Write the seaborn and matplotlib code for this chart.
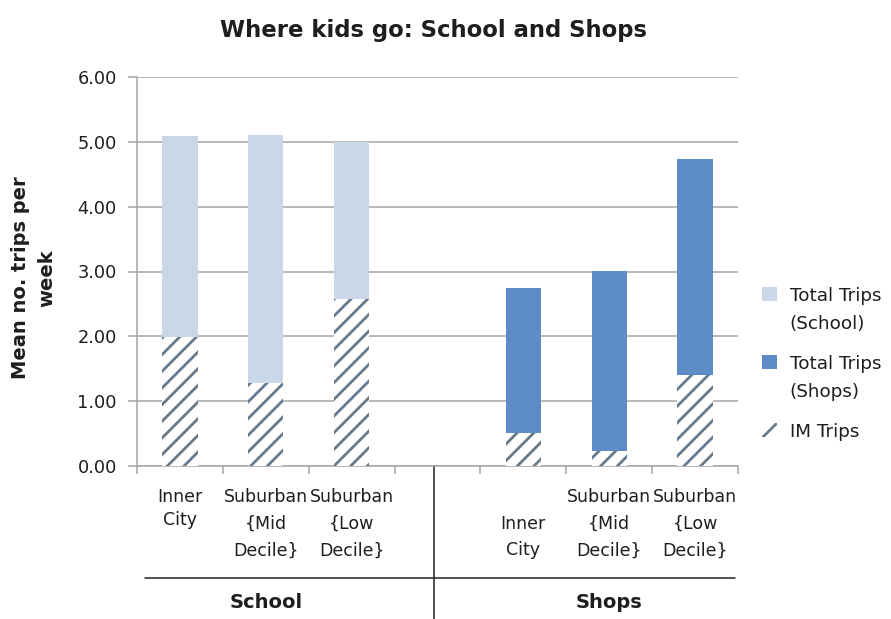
import matplotlib
matplotlib.use("Agg")
import matplotlib.pyplot as plt
import matplotlib.transforms as mtransforms
from matplotlib.patches import Patch
from matplotlib.lines import Line2D
import seaborn as sns
import pandas as pd

sns.set_theme(style="white")
plt.rcParams['font.family'] = ['DejaVu Sans']
plt.rcParams['hatch.linewidth'] = 2.0

# ---- data ----
groups = ["School", "School", "School", "Shops", "Shops", "Shops"]
areas = ["Inner City", "Suburban {Mid Decile}", "Suburban {Low Decile}",
         "Inner City", "Suburban {Mid Decile}", "Suburban {Low Decile}"]
total_trips = [5.09, 5.11, 5.00, 2.75, 3.01, 4.74]
im_trips = [1.99, 1.28, 2.58, 0.51, 0.23, 1.41]
slot_order = ["School|Inner City", "School|Suburban {Mid Decile}", "School|Suburban {Low Decile}",
              "gap",
              "Shops|Inner City", "Shops|Suburban {Mid Decile}", "Shops|Suburban {Low Decile}"]
yticks = [0, 1, 2, 3, 4, 5, 6]

df = pd.DataFrame({
    "group": groups,
    "area": areas,
    "slot": [g + "|" + a for g, a in zip(groups, areas)],
    "total": total_trips,
    "im": im_trips,
})

c_school = "#c9d7e8"
c_shops = "#5c8bc6"
c_hatch = "#687a89"
c_grid = "#a6a6a6"
c_text = "#1e1e1e"

fig = plt.figure(figsize=(8.91, 6.19), dpi=100)
ax = fig.add_axes([137/891, 1-466/619, (738-137)/891, (466-77)/619])

sns.barplot(data=df, x="slot", y="total", hue="group", order=slot_order,
            palette={"School": c_school, "Shops": c_shops}, dodge=False,
            width=0.41, linewidth=0, saturation=1, legend=False, ax=ax, zorder=2)
n_before = len(ax.patches)
sns.barplot(data=df, x="slot", y="im", order=slot_order, color="white",
            width=0.41, linewidth=0, saturation=1, ax=ax, zorder=3)
for p in ax.patches[n_before:]:
    p.set_facecolor("white")
    p.set_edgecolor(c_hatch)
    p.set_linewidth(0)
    p.set_hatch("//")

ax.set_ylim(0, 6)
ax.set_xlim(-0.5, 6.5)
ax.set_yticks(yticks)
ax.set_yticklabels([f"{v:.2f}" for v in yticks], fontsize=12.8, color=c_text)
ax.yaxis.grid(True, color=c_grid, linewidth=1.1, zorder=0)
ax.set_axisbelow(True)
for s in ["top", "right"]:
    ax.spines[s].set_visible(False)
for s in ["left", "bottom"]:
    ax.spines[s].set_color(c_grid)
    ax.spines[s].set_linewidth(1.1)
ax.tick_params(axis="y", which="major", length=6.5, width=1.1, color=c_grid,
               direction="out", left=True, pad=8)
ax.set_xticks([])
ax.set_xticks([i - 0.5 for i in range(8)], minor=True)
ax.tick_params(axis="x", which="minor", length=6, width=1.1, color=c_grid,
               direction="out", bottom=True)
ax.set_xlabel("")
ax.set_ylabel("Mean no. trips per\nweek", fontsize=14, fontweight="bold", color=c_text,
              linespacing=1.45)
ax.yaxis.set_label_coords((56 - 137) / 601, (466 - 278) / 389)

fig.text(433/891, 1-30/619, "Where kids go: School and Shops", ha="center", va="center",
         fontsize=16.4, fontweight="bold", color=c_text)

# category labels
trans = mtransforms.blended_transform_factory(ax.transData, fig.transFigure)
label_lines = {
    "School|Inner City": (["Inner", "City"], [497, 520]),
    "School|Suburban {Mid Decile}": (["Suburban", "{Mid", "Decile}"], [497, 524, 551]),
    "School|Suburban {Low Decile}": (["Suburban", "{Low", "Decile}"], [497, 524, 551]),
    "Shops|Inner City": (["Inner", "City"], [524, 550]),
    "Shops|Suburban {Mid Decile}": (["Suburban", "{Mid", "Decile}"], [497, 524, 551]),
    "Shops|Suburban {Low Decile}": (["Suburban", "{Low", "Decile}"], [497, 524, 551]),
}
for i, slot in enumerate(slot_order):
    if slot not in label_lines:
        continue
    lines, ys = label_lines[slot]
    for t, yy in zip(lines, ys):
        ax.text(i, 1 - yy/619, t, transform=trans, ha="center", va="center",
                fontsize=12.5, color=c_text)

for gname, cx in [("School", 1), ("Shops", 5)]:
    ax.text(cx, 1 - 603/619, gname, transform=trans, ha="center", va="center",
            fontsize=14, fontweight="bold", color=c_text)

# group separator lines
ax.add_line(Line2D([-0.41, 6.47], [1 - 578/619] * 2, transform=trans, color="#222222",
                   linewidth=1.1, clip_on=False))
ax.add_line(Line2D([2.96, 2.96], [1 - 466/619, 0], transform=trans, color="#222222",
                   linewidth=1.1, clip_on=False))

handles = [
    Patch(facecolor=c_school, edgecolor="none", label="Total Trips\n(School)"),
    Patch(facecolor=c_shops, edgecolor="none", label="Total Trips\n(Shops)"),
    Patch(facecolor="white", edgecolor=c_hatch, linewidth=0, hatch="//", label="IM Trips"),
]
leg = fig.legend(handles=handles, loc="upper left", bbox_to_anchor=(762/891, 1 - 287/619),
                 frameon=False, fontsize=13.2, handlelength=0.82, handleheight=0.82,
                 handletextpad=0.7, labelspacing=1.2, labelcolor=c_text,
                 borderpad=0, borderaxespad=0)
for t in leg.get_texts():
    t.set_linespacing(1.7)
for col in leg._legend_handle_box.get_children():
    for item in col.get_children():
        item.align = "top"

fig.savefig("out.png", dpi=100)
